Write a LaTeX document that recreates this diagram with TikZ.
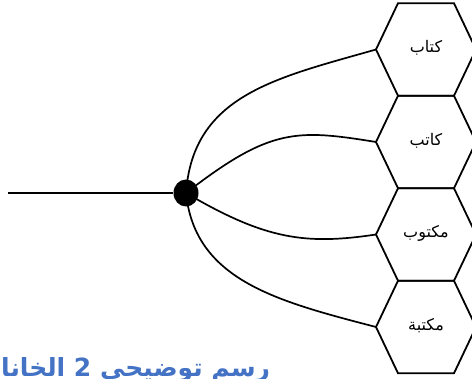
\documentclass[tikz,border=0pt]{standalone}
\usepackage{fontspec}
\usetikzlibrary{shapes.geometric}
\newfontfamily\arabicfont[Script=Arabic]{DejaVu Sans}
\TeXXeTstate=1
\definecolor{capblue}{HTML}{4472C4}
\begin{document}
\begin{tikzpicture}[x=1pt,y=-1pt,line width=1.8pt,
  hexlabel/.style={font=\arabicfont\fontsize{16}{19}\selectfont,inner sep=0pt},
  hexcell/.style={line width=1.8pt,line join=miter},
  link/.style={line width=1.7pt},
  caption/.style={font=\arabicfont\bfseries\fontsize{25}{29}\selectfont,text=capblue,inner sep=0pt,anchor=base east}]
\useasboundingbox (0,0) rectangle (472,379);
\clip (0,0) rectangle (472,379);
\foreach \i/\y in {1/49.5,2/142,3/234.5,4/327}{
  \draw[hexcell] (398,\y-46.25) -- (454,\y-46.25) -- (476,\y) -- (454,\y+46.25) -- (398,\y+46.25) -- (376,\y) -- cycle;
  \coordinate (h\i) at (376,\y);
}
\node[hexlabel] (t1) at (426,48) {\beginR كتاب\endR};
\node[hexlabel] (t2) at (426,141) {\beginR كاتب\endR};
\node[hexlabel] (t3) at (426,233) {\beginR مكتوب\endR};
\node[hexlabel] (t4) at (426,326) {\beginR مكتبة\endR};
\node[ellipse,fill=black,minimum width=25pt,minimum height=27pt,inner sep=0pt] (dot) at (186,193) {};
\coordinate (start) at (8,193);
\draw[link] (start) -- (dot);
\draw[link] (dot.center) .. controls (193,95) and (276,78) .. (h1);
\draw[link] (dot.center) .. controls (270,128) and (296,129) .. (h2);
\draw[link] (dot.center) .. controls (266,240) and (306,245) .. (h3);
\draw[link] (dot.center) .. controls (195,280) and (276,301) .. (h4);
\node[caption] (cap) at (271,377) {\beginR رسم توضيحي 2 الخانات\endR};
\end{tikzpicture}
\end{document}
